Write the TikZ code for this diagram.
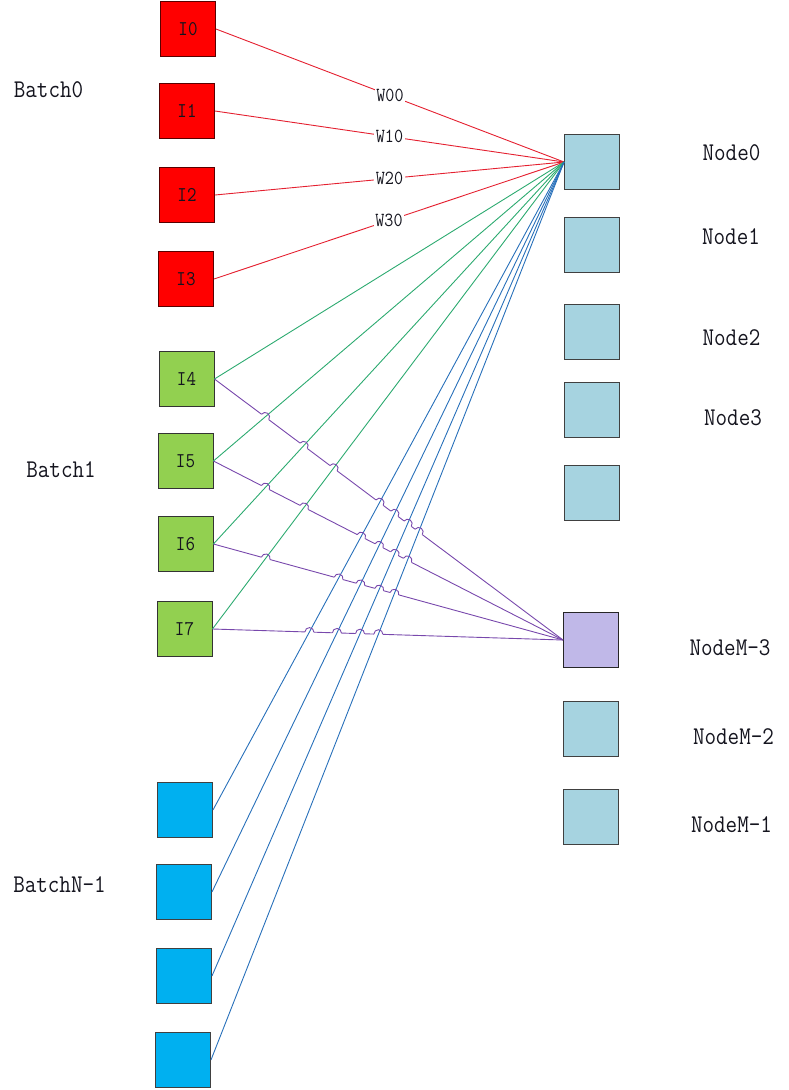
\documentclass[tikz,border=0pt]{standalone}
\usepackage{fontspec}
\usepackage{graphicx}
\usetikzlibrary{calc}

\definecolor{boxred}{RGB}{255,0,0}
\definecolor{boxgreen}{RGB}{146,208,80}
\definecolor{boxblue}{RGB}{0,176,240}
\definecolor{nodeblue}{RGB}{166,211,224}
\definecolor{nodepurple}{RGB}{192,184,232}
\definecolor{linered}{RGB}{228,32,48}
\definecolor{linegreen}{RGB}{44,170,112}
\definecolor{lineblue}{RGB}{40,112,186}
\definecolor{linepurple}{RGB}{120,72,172}
\definecolor{labelink}{RGB}{20,20,30}

% narrow the monospaced face a little
\newcommand\nw[1]{\scalebox{0.88}[1]{#1}}

\begin{document}
\begin{tikzpicture}[x=1pt,y=-1pt,
  cell/.style={draw=black!78, line width=0.9pt, minimum size=55pt, inner sep=0pt,
               text=labelink, font=\ttfamily\fontsize{21}{25}\selectfont},
  redcell/.style={cell, fill=boxred, draw=red!35!black},
  greencell/.style={cell, fill=boxgreen, draw=black!80},
  bluecell/.style={cell, fill=boxblue, draw=black!75},
  nodecell/.style={cell, fill=nodeblue, draw=black!75},
  mcell/.style={cell, fill=nodepurple, draw=black!85},
  sidelabel/.style={inner sep=0pt, text=labelink, font=\ttfamily\fontsize{25.5}{30}\selectfont},
  wlabel/.style={fill=white, inner sep=1.5pt, text=labelink, font=\ttfamily\fontsize{20}{24}\selectfont},
  conn/.style={line width=0.9pt},
  hopr/.store in=\hopr, hopr=4.5pt]
\useasboundingbox (0,0) rectangle (789,1090);

% input cells, batch 0
\node[redcell] (i0) at (188,29)  {\nw{I0}};
\node[redcell] (i1) at (187,111) {\nw{I1}};
\node[redcell] (i2) at (187,195) {\nw{I2}};
\node[redcell] (i3) at (186,279) {\nw{I3}};
% batch 1
\node[greencell] (i4) at (186.5,379) {\nw{I4}};
\node[greencell] (i5) at (185.5,461) {\nw{I5}};
\node[greencell] (i6) at (185.5,544) {\nw{I6}};
\node[greencell] (i7) at (184.5,629) {\nw{I7}};
% batch N-1
\node[bluecell] (b0) at (185,810)  {};
\node[bluecell] (b1) at (184,892)  {};
\node[bluecell] (b2) at (184,976)  {};
\node[bluecell] (b3) at (183,1060) {};

% output nodes
\node[nodecell] (n0) at (592,162) {};
\node[nodecell] (n1) at (592,244.5) {};
\node[nodecell] (n2) at (592,332) {};
\node[nodecell] (n3) at (592,410) {};
\node[nodecell] (n4) at (592,493) {};
\node[mcell]    (m3) at (591,640) {};
\node[nodecell] (m2) at (591,729) {};
\node[nodecell] (m1) at (591,817) {};

% side labels
\node[sidelabel] (lb0) at (48.5,90)  {\nw{Batch0}};
\node[sidelabel] (lb1) at (61,470)   {\nw{Batch1}};
\node[sidelabel] (lbn) at (59.5,885) {\nw{BatchN-1}};
\node[sidelabel] (ln0) at (731.5,153) {\nw{Node0}};
\node[sidelabel] (ln1) at (731,237)   {\nw{Node1}};
\node[sidelabel] (ln2) at (731.5,338) {\nw{Node2}};
\node[sidelabel] (ln3) at (733,418)   {\nw{Node3}};
\node[sidelabel] (lm3) at (730,648)   {\nw{NodeM-3}};
\node[sidelabel] (lm2) at (733.5,737) {\nw{NodeM-2}};
\node[sidelabel] (lm1) at (731.5,825) {\nw{NodeM-1}};

% batch 1 to node M-3
\foreach \src in {i4,i5,i6,i7}
  \draw[conn, linepurple] (\src.east) -- (m3.west);

% clear the purple line where a jump will sit
\foreach \src/\crossers in {i4/{i5,i6,i7,b0,b1,b2,b3}, i5/{i6,i7,b0,b1,b2,b3},
                            i6/{i7,b0,b1,b2,b3}, i7/{b0,b1,b2,b3}}{
  \foreach \cr in \crossers {
    \coordinate (X) at (intersection of \src.east--m3.west and \cr.east--n0.west);
    \draw[white, line width=2.6pt] let \p1=($(m3.west)-(\src.east)$), \n1={atan2(\y1,\x1)} in
      ($(X)+(\n1+180:\hopr)$) -- ($(X)+(\n1:\hopr)$);
  }
}

% batch 0 to node 0, with weights
\draw[conn, linered] (i0.east) -- node[wlabel, pos=0.5] (w00) {\nw{W00}} (n0.west);
\draw[conn, linered] (i1.east) -- node[wlabel, pos=0.5] (w10) {\nw{W10}} (n0.west);
\draw[conn, linered] (i2.east) -- node[wlabel, pos=0.5] (w20) {\nw{W20}} (n0.west);
\draw[conn, linered] (i3.east) -- node[wlabel, pos=0.5] (w30) {\nw{W30}} (n0.west);

% batch 1 to node 0
\foreach \src in {i4,i5,i6,i7}
  \draw[conn, linegreen] (\src.east) -- (n0.west);

% batch N-1 to node 0
\foreach \src in {b0,b1,b2,b3}
  \draw[conn, lineblue] (\src.east) -- (n0.west);

% line jumps of the purple lines
\foreach \src/\crossers in {i4/{i5,i6,i7,b0,b1,b2,b3}, i5/{i6,i7,b0,b1,b2,b3},
                            i6/{i7,b0,b1,b2,b3}, i7/{b0,b1,b2,b3}}{
  \foreach \cr in \crossers {
    \coordinate (X) at (intersection of \src.east--m3.west and \cr.east--n0.west);
    \draw[conn, linepurple] let \p1=($(m3.west)-(\src.east)$), \n1={atan2(\y1,\x1)} in
      ($(X)+(\n1+180:\hopr)$) arc[start angle=\n1+180, end angle=\n1, radius=\hopr];
  }
}
\end{tikzpicture}
\end{document}
